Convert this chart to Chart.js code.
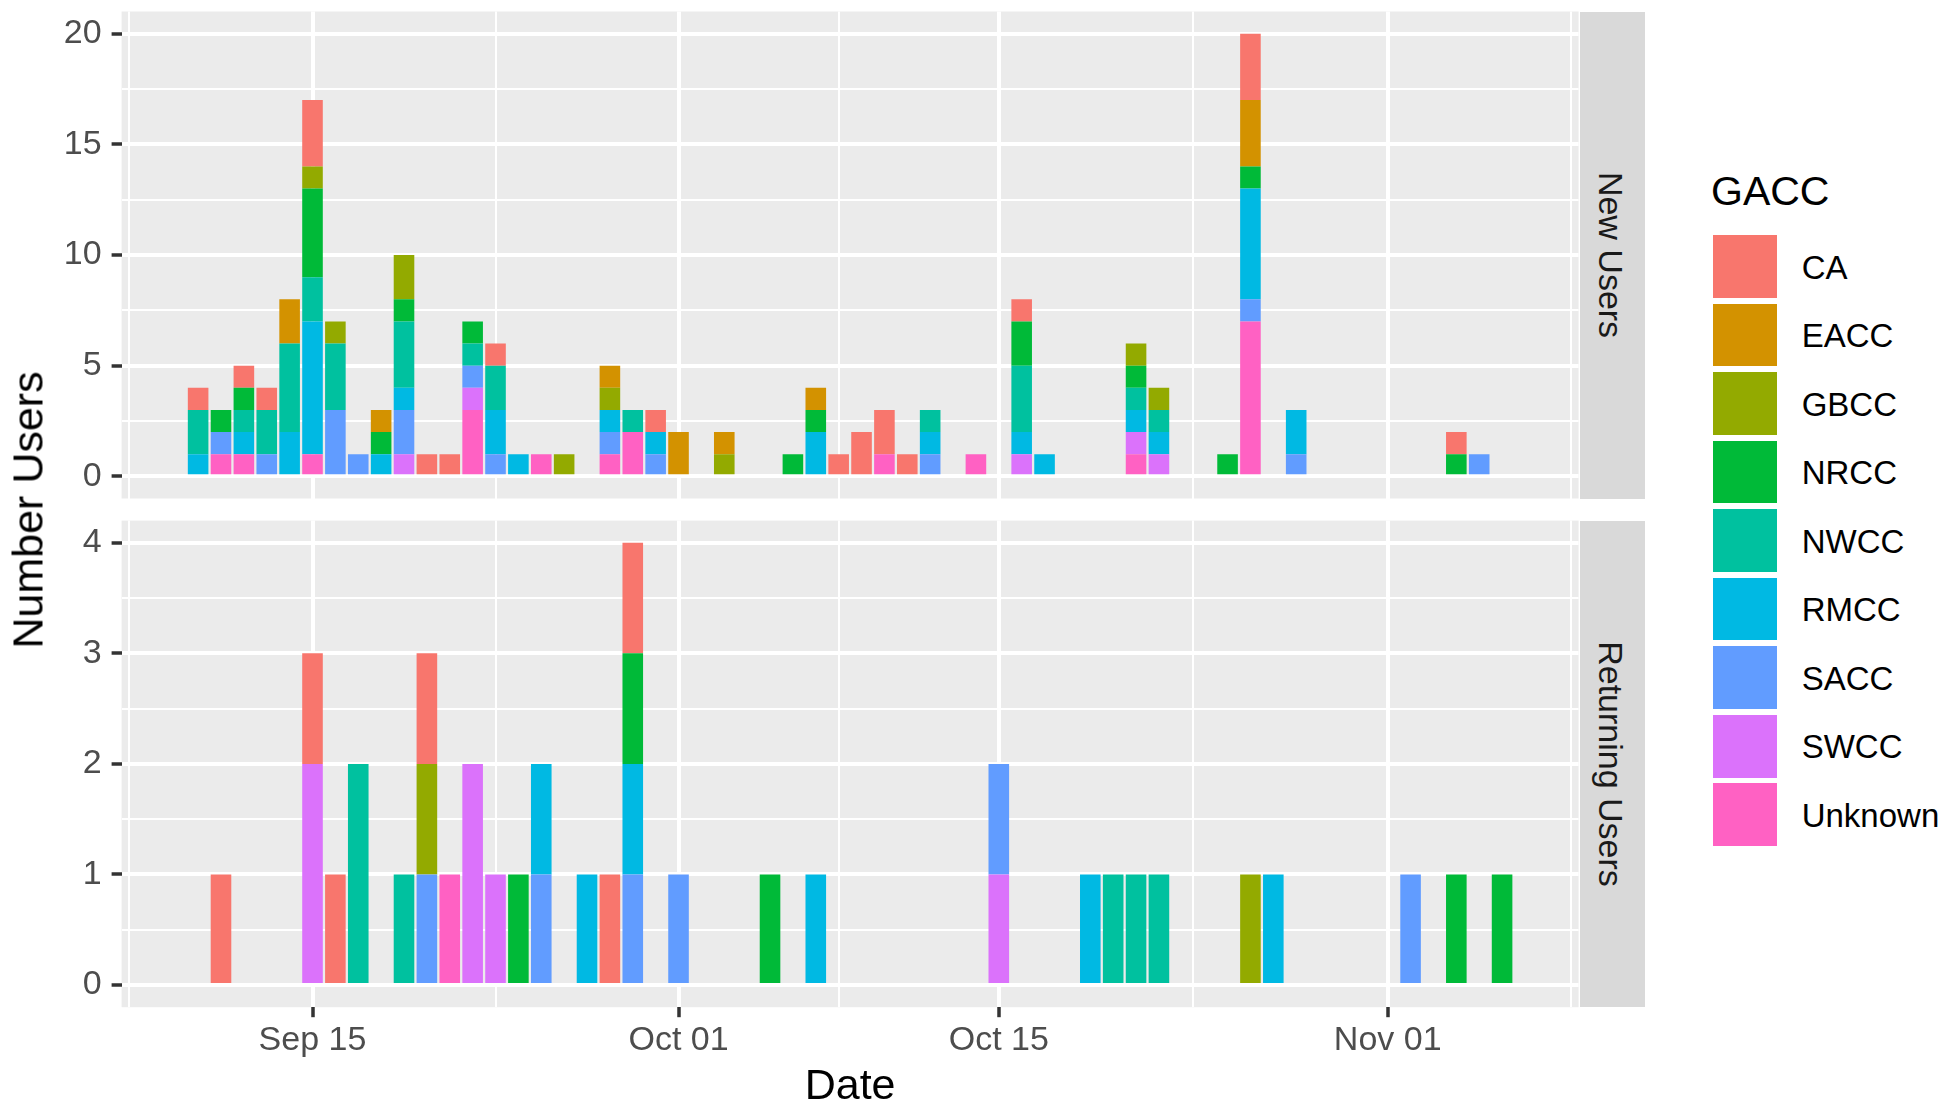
<!DOCTYPE html>
<html>
<head>
<meta charset="utf-8">
<script src="https://cdn.jsdelivr.net/npm/chart.js@4.4.1/dist/chart.umd.min.js"></script>
<style>
  html, body { margin: 0; padding: 0; background: #fff; }
  #page { position: relative; width: 1950px; height: 1111px; overflow: hidden; font-family: "Liberation Sans", Arial, sans-serif; }
  #page canvas { position: absolute; left: 0; }
  .strip { position: absolute; left: 1580px; width: 65px; background: #D9D9D9; }
  .strip span { position: absolute; left: calc(50% - 2px); top: 50%; white-space: nowrap; font-size: 34px; line-height: 34px; color: #1A1A1A; transform: translate(-50%, -50%) rotate(90deg); }
  .ytitle { position: absolute; left: 28.4px; top: 510px; white-space: nowrap; font-size: 43px; line-height: 43px; color: #000; transform: translate(-50%, -50%) rotate(-90deg); }
  .ltitle { position: absolute; left: 1711px; top: 171.3px; font-size: 41px; line-height: 41px; color: #000; }
  .key { position: absolute; left: 1713.3px; width: 63.4px; height: 62.7px; }
  .lab { position: absolute; left: 1801.7px; height: 62.7px; line-height: 62.7px; font-size: 33px; color: #000; white-space: nowrap; }
</style>
</head>
<body>
<div id="page">
  <canvas id="newChart" width="1580" height="499" style="top:0px"></canvas>
  <canvas id="retChart" width="1580" height="603" style="top:508px"></canvas>
  <div class="strip" style="top:11.5px;height:487px"><span>New Users</span></div>
  <div class="strip" style="top:520.6px;height:486.6px"><span>Returning Users</span></div>
  <div class="ytitle">Number Users</div>
  <div class="ltitle">GACC</div>
</div>
<script>
// GACC regions, in legend order, with ggplot's default hue colours
const CATEGORIES = ['CA', 'EACC', 'GBCC', 'NRCC', 'NWCC', 'RMCC', 'SACC', 'SWCC', 'Unknown'];
const COLORS = ['#F8766D', '#D39200', '#93AA00', '#00BA38', '#00C19F', '#00B9E3', '#619CFF', '#DB72FB', '#FF61C3'];

// x axis labels
const TICK_DATES = ['09-15', '10-01', '10-15', '11-01'];
const TICK_LABELS = ['Sep 15', 'Oct 01', 'Oct 15', 'Nov 01'];

// New users per day
const NEW_DATES = ['09-10', '09-11', '09-12', '09-13', '09-14', '09-15', '09-16', '09-17', '09-18', '09-19',
                   '09-20', '09-21', '09-22', '09-23', '09-24', '09-25', '09-26', '09-28', '09-29', '09-30',
                   '10-01', '10-03', '10-06', '10-07', '10-08', '10-09', '10-10', '10-11', '10-12', '10-14',
                   '10-16', '10-17', '10-21', '10-22', '10-25', '10-26', '10-28', '11-04', '11-05'];
const NEW_CA      = [1,0,1,1,0,3,0,0,0,0, 1,1,0,1,0,0,0,0,0,1, 0,0,0,0,1,2,2,1,0,0, 1,0,0,0,0,3,0,1,0];
const NEW_EACC    = [0,0,0,0,2,0,0,0,1,0, 0,0,0,0,0,0,0,1,0,0, 2,1,0,1,0,0,0,0,0,0, 0,0,0,0,0,3,0,0,0];
const NEW_GBCC    = [0,0,0,0,0,1,1,0,0,2, 0,0,0,0,0,0,1,1,0,0, 0,1,0,0,0,0,0,0,0,0, 0,0,1,1,0,0,0,0,0];
const NEW_NRCC    = [0,1,1,0,0,4,0,0,1,1, 0,0,1,0,0,0,0,0,0,0, 0,0,1,1,0,0,0,0,0,0, 2,0,1,0,1,1,0,1,0];
const NEW_NWCC    = [2,0,1,2,4,2,3,0,0,3, 0,0,1,2,0,0,0,0,1,0, 0,0,0,0,0,0,0,0,1,0, 3,0,1,1,0,0,0,0,0];
const NEW_RMCC    = [1,0,1,0,2,6,0,0,1,1, 0,0,0,2,1,0,0,1,0,1, 0,0,0,2,0,0,0,0,1,0, 1,1,1,1,0,5,2,0,0];
const NEW_SACC    = [0,1,0,1,0,0,3,1,0,2, 0,0,1,1,0,0,0,1,0,1, 0,0,0,0,0,0,0,0,1,0, 0,0,0,0,0,1,1,0,1];
const NEW_SWCC    = [0,0,0,0,0,0,0,0,0,1, 0,0,1,0,0,0,0,0,0,0, 0,0,0,0,0,0,0,0,0,0, 1,0,1,1,0,0,0,0,0];
const NEW_UNKNOWN = [0,1,1,0,0,1,0,0,0,0, 0,0,3,0,0,1,0,1,2,0, 0,0,0,0,0,0,1,0,0,1, 0,0,1,0,0,7,0,0,0];

// Returning users per day
const RET_DATES = ['09-11', '09-15', '09-16', '09-17', '09-19', '09-20', '09-21', '09-22', '09-23', '09-24',
                   '09-25', '09-27', '09-28', '09-29', '10-01', '10-05', '10-07', '10-15', '10-19', '10-20',
                   '10-21', '10-22', '10-26', '10-27', '11-02', '11-04', '11-06'];
const RET_CA      = [1,1,1,0,0,1,0,0,0,0, 0,0,1,1,0,0,0,0,0,0, 0,0,0,0,0,0,0];
const RET_EACC    = [0,0,0,0,0,0,0,0,0,0, 0,0,0,0,0,0,0,0,0,0, 0,0,0,0,0,0,0];
const RET_GBCC    = [0,0,0,0,0,1,0,0,0,0, 0,0,0,0,0,0,0,0,0,0, 0,0,1,0,0,0,0];
const RET_NRCC    = [0,0,0,0,0,0,0,0,0,1, 0,0,0,1,0,1,0,0,0,0, 0,0,0,0,0,1,1];
const RET_NWCC    = [0,0,0,2,1,0,0,0,0,0, 0,0,0,0,0,0,0,0,0,1, 1,1,0,0,0,0,0];
const RET_RMCC    = [0,0,0,0,0,0,0,0,0,0, 1,1,0,1,0,0,1,0,1,0, 0,0,0,1,0,0,0];
const RET_SACC    = [0,0,0,0,0,1,0,0,0,0, 1,0,0,1,1,0,0,1,0,0, 0,0,0,0,1,0,0];
const RET_SWCC    = [0,2,0,0,0,0,0,2,1,0, 0,0,0,0,0,0,0,1,0,0, 0,0,0,0,0,0,0];
const RET_UNKNOWN = [0,0,0,0,0,0,1,0,0,0, 0,0,0,0,0,0,0,0,0,0, 0,0,0,0,0,0,0];

const NEW_SERIES = [NEW_CA, NEW_EACC, NEW_GBCC, NEW_NRCC, NEW_NWCC, NEW_RMCC, NEW_SACC, NEW_SWCC, NEW_UNKNOWN];
const RET_SERIES = [RET_CA, RET_EACC, RET_GBCC, RET_NRCC, RET_NWCC, RET_RMCC, RET_SACC, RET_SWCC, RET_UNKNOWN];

const FONT = '"Liberation Sans", Arial, sans-serif';

function dayNum(md) {
  const [m, d] = md.split('-').map(Number);
  return Date.UTC(2021, m - 1, d) / 86400000;
}

// shared x range, like ggplot: bar edges plus 5% on each side
const allDays = NEW_DATES.concat(RET_DATES).map(dayNum);
const lo = Math.min(...allDays) - 0.45, hi = Math.max(...allDays) + 0.45;
const X_MIN = lo - (hi - lo) * 0.05;
const X_MAX = hi + (hi - lo) * 0.05;

// major breaks plus ggplot's minor breaks (midpoints, extended by one step)
const MAJOR_DAYS = TICK_DATES.map(dayNum);
const step = MAJOR_DAYS[1] - MAJOR_DAYS[0];
const ext = [MAJOR_DAYS[0] - step, ...MAJOR_DAYS, MAJOR_DAYS[MAJOR_DAYS.length - 1] + step];
const MINOR_DAYS = [];
for (let i = 1; i < ext.length; i++) MINOR_DAYS.push((ext[i - 1] + ext[i]) / 2);
const GRID_DAYS = MAJOR_DAYS.concat(MINOR_DAYS.filter(v => v > X_MIN && v < X_MAX)).sort((a, b) => a - b);
const isMajorDay = v => MAJOR_DAYS.some(m => Math.abs(m - v) < 1e-6);

const panelBg = {
  id: 'panelBg',
  beforeDraw(chart) {
    const {ctx, chartArea: a} = chart;
    ctx.save();
    ctx.fillStyle = '#EBEBEB';
    ctx.fillRect(a.left, a.top, a.right - a.left, a.bottom - a.top);
    ctx.restore();
  }
};

// the panels are placed by hand, so drop the room Chart.js keeps for edge labels
function noEdgePadding(s) {
  s.paddingTop = 0;
  s.paddingBottom = 0;
  s.paddingLeft = 0;
  s.paddingRight = 0;
}

function buildDatasets(dates, series) {
  // first level sits on top of the stack in ggplot, so draw in reverse
  return CATEGORIES.map((name, k) => ({
    label: name,
    backgroundColor: COLORS[k],
    borderWidth: 0,
    barPercentage: 0.9,
    categoryPercentage: 1,
    data: dates.map((d, i) => ({x: dayNum(d), y: series[k][i]})).filter(p => p.y > 0)
  })).reverse();
}

function makeChart(id, dates, series, yMin, yMax, yStep, yMajor, bottom) {
  const majorY = v => Math.abs(v / yMajor - Math.round(v / yMajor)) < 1e-6;
  return new Chart(document.getElementById(id), {
    type: 'bar',
    data: { datasets: buildDatasets(dates, series) },
    plugins: [panelBg],
    options: {
      responsive: false,
      animation: false,
      devicePixelRatio: 1,
      events: [],
      layout: { padding: bottom ? {left: 0, right: 1.4, top: 12.6, bottom: 0}
                                : {left: 0, right: 1.4, top: 11.5, bottom: 0.5} },
      plugins: { legend: { display: false }, tooltip: { enabled: false } },
      scales: {
        x: {
          type: 'linear',
          min: X_MIN,
          max: X_MAX,
          offset: false,
          stacked: true,
          afterBuildTicks: s => { s.ticks = GRID_DAYS.map(v => ({value: v})); },
          afterFit: s => { s.height = bottom ? 103.8 : 0; noEdgePadding(s); },
          border: { display: false },
          grid: {
            offset: false,
            color: '#FFFFFF',
            lineWidth: c => isMajorDay(c.tick.value) ? 4 : 2,
            drawTicks: bottom,
            tickLength: 10,
            tickWidth: 3.5,
            tickColor: c => isMajorDay(c.tick.value) ? '#333333' : 'rgba(0,0,0,0)'
          },
          ticks: {
            display: bottom,
            autoSkip: false,
            maxRotation: 0,
            minRotation: 0,
            padding: 3,
            color: '#4D4D4D',
            font: { family: FONT, size: 34, lineHeight: 1.2 },
            callback: v => {
              const i = MAJOR_DAYS.findIndex(m => Math.abs(m - v) < 1e-6);
              return i >= 0 ? TICK_LABELS[i] : '';
            }
          },
          title: {
            display: bottom,
            text: 'Date',
            color: '#000000',
            padding: { top: 0, bottom: 2.7 },
            font: { family: FONT, size: 43, lineHeight: 1 }
          }
        },
        y: {
          min: yMin,
          max: yMax,
          stacked: true,
          afterFit: s => { s.width = 121.6; noEdgePadding(s); },
          border: { display: false },
          grid: {
            color: '#FFFFFF',
            lineWidth: c => majorY(c.tick.value) ? 4 : 2,
            tickLength: 10,
            tickWidth: 3.5,
            tickColor: c => majorY(c.tick.value) ? '#333333' : 'rgba(0,0,0,0)'
          },
          ticks: {
            stepSize: yStep,
            includeBounds: false,
            autoSkip: false,
            maxTicksLimit: 30,
            padding: 10,
            color: '#4D4D4D',
            font: { family: FONT, size: 34, lineHeight: 1.2 },
            callback: v => majorY(v) ? String(Math.round(v)) : ''
          }
        }
      }
    }
  });
}

makeChart('newChart', NEW_DATES, NEW_SERIES, -1, 21, 2.5, 5, false);
makeChart('retChart', RET_DATES, RET_SERIES, -0.2, 4.2, 0.5, 1, true);

// legend
const page = document.getElementById('page');
CATEGORIES.forEach((name, i) => {
  const top = 235 + i * 68.55;
  const key = document.createElement('div');
  key.className = 'key';
  key.style.top = top + 'px';
  key.style.background = COLORS[i];
  const lab = document.createElement('div');
  lab.className = 'lab';
  lab.style.top = (top + 1.5) + 'px';
  lab.textContent = name;
  page.append(key, lab);
});
</script>
</body>
</html>
